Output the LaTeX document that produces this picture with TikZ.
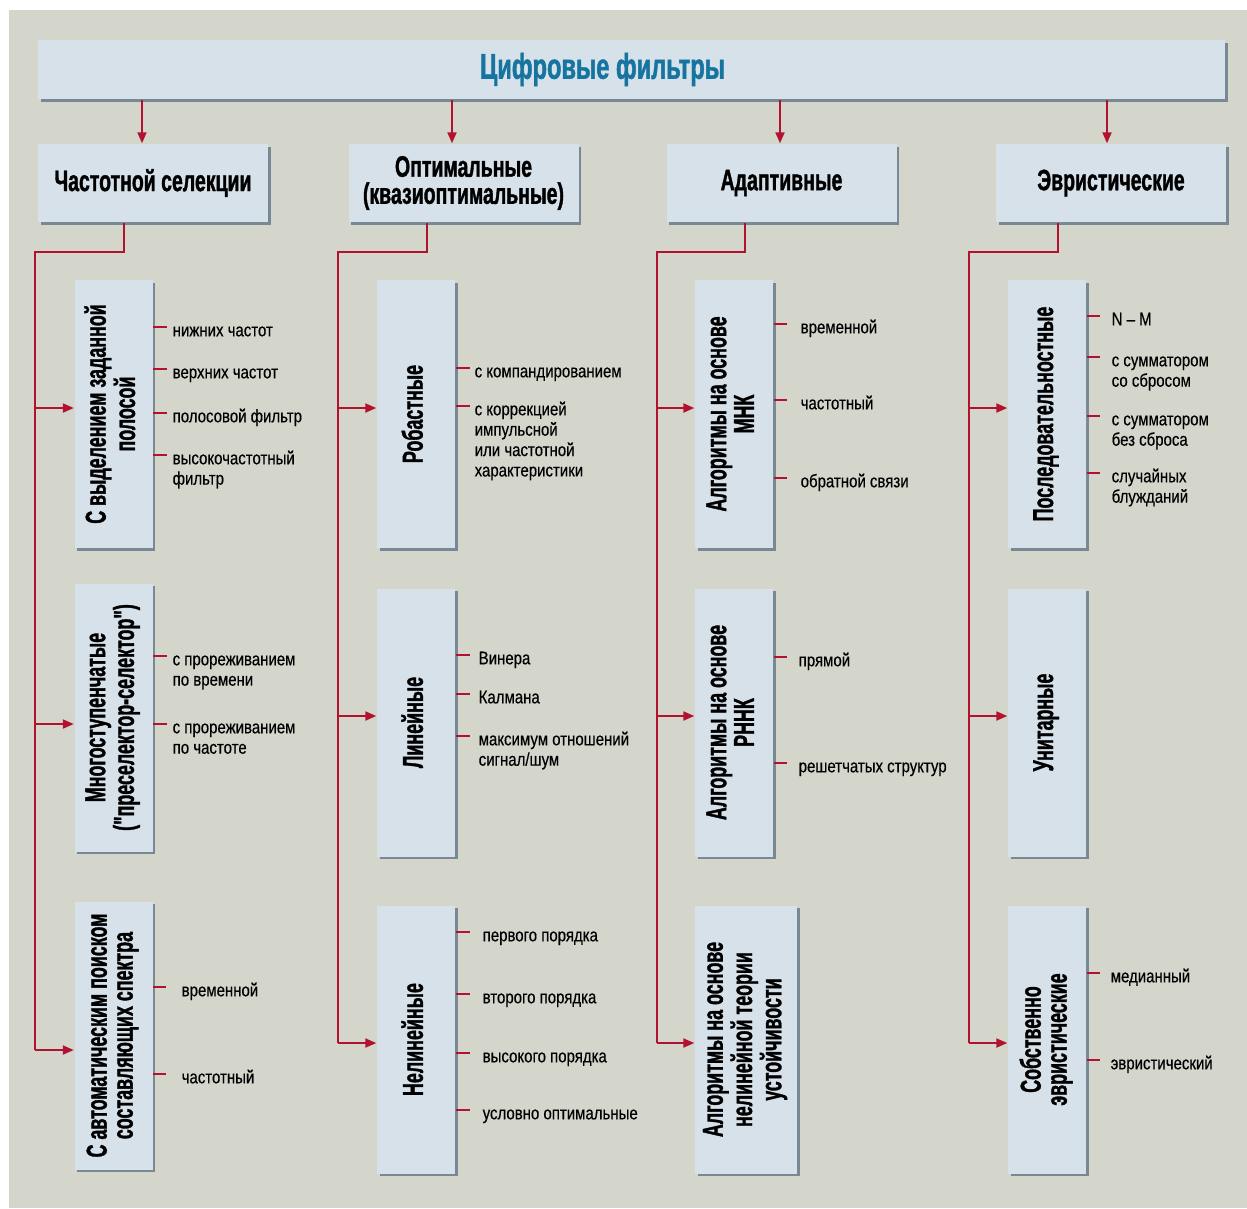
\documentclass[tikz,border=0pt]{standalone}
\usepackage{fontspec}
\usepackage{graphicx}
\setmainfont{Liberation Sans}
\newfontfamily\boxfont{Liberation Sans}[FakeStretch=0.66, FakeBold=1.2]
\newfontfamily\classfont{Liberation Sans}[FakeStretch=0.62, FakeBold=1.2]
\newfontfamily\leaffont{Liberation Sans}[FakeStretch=0.82, FakeBold=0.4]
\usetikzlibrary{arrows.meta, calc, shadows}

\definecolor{panelgrey}{RGB}{212,214,204}
\definecolor{boxblue}{RGB}{214,225,234}
\definecolor{boxedge}{RGB}{120,136,148}
\definecolor{linkred}{RGB}{178,18,48}
\definecolor{titleblue}{RGB}{22,116,160}

\newcommand{\upright}[1]{\rotatebox{90}{\begin{tabular}{@{}c@{}}#1\end{tabular}}}
\newcommand{\rows}[1]{\begin{tabular}[t]{@{}l@{}}#1\end{tabular}}

\tikzset{
  shadebox/.style={fill=boxblue, inner sep=0pt,
    drop shadow={shadow xshift=0.25mm, shadow yshift=-0.25mm, fill=boxedge, opacity=1}},
  rootbox/.style={shadebox, minimum width=118.7mm, minimum height=5.9mm,
    font=\boxfont\bfseries\fontsize{10.2}{11}\selectfont, text=titleblue},
  groupbox/.style={shadebox, minimum width=23mm, minimum height=7.8mm, align=center,
    font=\boxfont\bfseries\fontsize{8.4}{7.7}\selectfont},
  classbox/.style={shadebox, minimum width=7.8mm, minimum height=26.8mm,
    font=\classfont\bfseries\fontsize{8.2}{7.4}\selectfont},
  leaf/.style={anchor=mid west, inner ysep=0pt, inner xsep=#1,
    font=\leaffont\fontsize{5.2}{5.8}\selectfont},
  leaf/.default=1mm,
  link/.style={draw=linkred, line width=0.2mm},
  feed/.style={link, -{Triangle[length=1.1mm, width=0.9mm]}},
  twig/.style={draw=linkred, line width=0.18mm},
}

\begin{document}
\begin{tikzpicture}[x=0.1mm, y=-0.1mm]
    % Frame
    \useasboundingbox (0,0) rectangle (1247,1208);
    \fill[white] (0,0) rectangle (1247,1208);
    \fill[panelgrey] (9,10) rectangle (1247,1208);

    % Title and the four groups
    \node[rootbox] (root) at (631.5,69.5) {Цифровые фильтры\hspace*{5.8mm}};
    \node[groupbox] (sel) at (153,183) {Частотной селекции};
    \node[groupbox] (opt) at (463.5,183) {Оптимальные\\(квазиоптимальные)};
    \node[groupbox] (adp) at (781.5,183) {Адаптивные};
    \node[groupbox] (heu) at (1111,183) {Эвристические};

    \draw[feed] (root.south -| 142,0) -- (sel.north -| 142,0);
    \draw[feed] (root.south -| 452,0) -- (opt.north -| 452,0);
    \draw[feed] (root.south -| 780,0) -- (adp.north -| 780,0);
    \draw[feed] (root.south -| 1107,0) -- (heu.north -| 1107,0);

    % Frequency selection
    \node[classbox] (sel1) at (113.5,414) {\upright{С выделением заданной\\полосой}};
    \node[classbox] (sel2) at (113.5,717.5) {\upright{Многоступенчатые\\("преселектор-селектор")}};
    \node[classbox] (sel3) at (113.5,1035.5) {\upright{С автоматическим поиском\\составляющих спектра}};

    \coordinate (selk) at (35,252);
    \draw[link] (sel.south -| 124,0) |- (selk) -- (selk |- 0,1050);
    \draw[feed] (selk |- 0,408) -- (sel1.west |- 0,408);
    \draw[feed] (selk |- 0,724) -- (sel2.west |- 0,724);
    \draw[feed] (selk |- 0,1050) -- (sel3.west |- 0,1050);

    \node[leaf=0.5mm] (sel1a) at (167,327) {\rows{нижних частот}};
    \node[leaf=0.5mm] (sel1b) at (167,369) {\rows{верхних частот}};
    \node[leaf=0.5mm] (sel1c) at (167,413) {\rows{полосовой фильтр}};
    \node[leaf=0.5mm] (sel1d) at (167,455) {\rows{высокочастотный\\фильтр}};
    \draw[twig] (sel1.east |- sel1a.mid west) -- (sel1a.mid west);
    \draw[twig] (sel1.east |- sel1b.mid west) -- (sel1b.mid west);
    \draw[twig] (sel1.east |- sel1c.mid west) -- (sel1c.mid west);
    \draw[twig] (sel1.east |- sel1d.mid west) -- (sel1d.mid west);

    \node[leaf=0.5mm] (sel2a) at (167,656) {\rows{с прореживанием\\по времени}};
    \node[leaf=0.5mm] (sel2b) at (167,724) {\rows{с прореживанием\\по частоте}};
    \draw[twig] (sel2.east |- sel2a.mid west) -- (sel2a.mid west);
    \draw[twig] (sel2.east |- sel2b.mid west) -- (sel2b.mid west);

    \node[leaf=1.5mm] (sel3a) at (166,987) {\rows{временной}};
    \node[leaf=1.5mm] (sel3b) at (166,1074) {\rows{частотный}};
    \draw[twig] (sel3.east |- sel3a.mid west) -- (sel3a.mid west);
    \draw[twig] (sel3.east |- sel3b.mid west) -- (sel3b.mid west);

    % Optimal
    \node[classbox] (rob) at (416,414) {\upright{Робастные}};
    \node[classbox] (lin) at (416,722.5) {\upright{Линейные}};
    \node[classbox] (nlin) at (416,1039.5) {\upright{Нелинейные}};

    \coordinate (optk) at (338,252);
    \draw[link] (opt.south -| 427,0) |- (optk) -- (optk |- 0,1043);
    \draw[feed] (optk |- 0,408) -- (rob.west |- 0,408);
    \draw[feed] (optk |- 0,716) -- (lin.west |- 0,716);
    \draw[feed] (optk |- 0,1043) -- (nlin.west |- 0,1043);

    \node[leaf=0.4mm] (roba) at (470,368) {\rows{с компандированием}};
    \node[leaf=0.4mm] (robb) at (470,406) {\rows{с коррекцией\\импульсной\\или частотной\\характеристики}};
    \draw[twig] (rob.east |- roba.mid west) -- (roba.mid west);
    \draw[twig] (rob.east |- robb.mid west) -- (robb.mid west);

    \node[leaf=0.8mm] (lina) at (470,655) {\rows{Винера}};
    \node[leaf=0.8mm] (linb) at (470,694) {\rows{Калмана}};
    \node[leaf=0.8mm] (linc) at (470,736) {\rows{максимум отношений\\сигнал/шум}};
    \draw[twig] (lin.east |- lina.mid west) -- (lina.mid west);
    \draw[twig] (lin.east |- linb.mid west) -- (linb.mid west);
    \draw[twig] (lin.east |- linc.mid west) -- (linc.mid west);

    \node[leaf=1.2mm] (nlina) at (470,932) {\rows{первого порядка}};
    \node[leaf=1.2mm] (nlinb) at (470,994) {\rows{второго порядка}};
    \node[leaf=1.2mm] (nlinc) at (470,1053) {\rows{высокого порядка}};
    \node[leaf=1.2mm] (nlind) at (470,1110) {\rows{условно оптимальные}};
    \draw[twig] (nlin.east |- nlina.mid west) -- (nlina.mid west);
    \draw[twig] (nlin.east |- nlinb.mid west) -- (nlinb.mid west);
    \draw[twig] (nlin.east |- nlinc.mid west) -- (nlinc.mid west);
    \draw[twig] (nlin.east |- nlind.mid west) -- (nlind.mid west);

    % Adaptive
    \node[classbox] (mnk) at (734,414) {\upright{Алгоритмы на основе\\МНК}};
    \node[classbox] (rnnk) at (734,722.5) {\upright{Алгоритмы на основе\\РННК}};
    \node[classbox, minimum width=10.2mm] (nlt) at (746,1039.5) {\upright{Алгоритмы на основе\\нелинейной теории\\устойчивости}};

    \coordinate (adpk) at (657,252);
    \draw[link] (adp.south -| 745,0) |- (adpk) -- (adpk |- 0,1043);
    \draw[feed] (adpk |- 0,408) -- (mnk.west |- 0,408);
    \draw[feed] (adpk |- 0,716) -- (rnnk.west |- 0,716);
    \draw[feed] (adpk |- 0,1043) -- (nlt.west |- 0,1043);

    \node[leaf=1.3mm] (mnka) at (787,324) {\rows{временной}};
    \node[leaf=1.3mm] (mnkb) at (787,400) {\rows{частотный}};
    \node[leaf=1.3mm] (mnkc) at (787,478) {\rows{обратной связи}};
    \draw[twig] (mnk.east |- mnka.mid west) -- (mnka.mid west);
    \draw[twig] (mnk.east |- mnkb.mid west) -- (mnkb.mid west);
    \draw[twig] (mnk.east |- mnkc.mid west) -- (mnkc.mid west);

    \node[leaf=1.1mm] (rnnka) at (787,657) {\rows{прямой}};
    \node[leaf=1.1mm] (rnnkb) at (787,763) {\rows{решетчатых структур}};
    \draw[twig] (rnnk.east |- rnnka.mid west) -- (rnnka.mid west);
    \draw[twig] (rnnk.east |- rnnkb.mid west) -- (rnnkb.mid west);

    % Heuristic
    \node[classbox] (seq) at (1047,414) {\upright{Последовательностные}};
    \node[classbox] (uni) at (1047,722.5) {\upright{Унитарные}};
    \node[classbox] (own) at (1047,1039.5) {\upright{Собственно\\эвристические}};

    \coordinate (heuk) at (969,252);
    \draw[link] (heu.south -| 1058,0) |- (heuk) -- (heuk |- 0,1043);
    \draw[feed] (heuk |- 0,408) -- (seq.west |- 0,408);
    \draw[feed] (heuk |- 0,716) -- (uni.west |- 0,716);
    \draw[feed] (heuk |- 0,1043) -- (own.west |- 0,1043);

    \node[leaf=1.1mm] (seqa) at (1100,316) {\rows{N – M}};
    \node[leaf=1.1mm] (seqb) at (1100,357) {\rows{с сумматором\\со сбросом}};
    \node[leaf=1.1mm] (seqc) at (1100,416) {\rows{с сумматором\\без сброса}};
    \node[leaf=1.1mm] (seqd) at (1100,473) {\rows{случайных\\блужданий}};
    \draw[twig] (seq.east |- seqa.mid west) -- (seqa.mid west);
    \draw[twig] (seq.east |- seqb.mid west) -- (seqb.mid west);
    \draw[twig] (seq.east |- seqc.mid west) -- (seqc.mid west);
    \draw[twig] (seq.east |- seqd.mid west) -- (seqd.mid west);

    \node[leaf=1mm] (owna) at (1100,973) {\rows{медианный}};
    \node[leaf=1mm] (ownb) at (1100,1060) {\rows{эвристический}};
    \draw[twig] (own.east |- owna.mid west) -- (owna.mid west);
    \draw[twig] (own.east |- ownb.mid west) -- (ownb.mid west);
\end{tikzpicture}
\end{document}
